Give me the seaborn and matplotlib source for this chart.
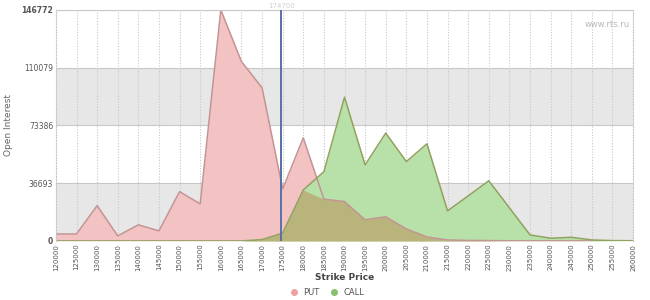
import matplotlib
matplotlib.use("Agg")
import matplotlib.pyplot as plt
import seaborn as sns
import numpy as np
import pandas as pd
from matplotlib.lines import Line2D

strikes = list(range(120000, 260001, 5000))
put_oi = [4400, 4400, 22400, 3200, 10200, 6400, 31300, 23500, 146772, 114000, 97300,
          33000, 65500, 26500, 25000, 13400, 15300, 7600, 2500, 600, 300, 200, 100,
          100, 100, 100, 50, 0, 0]
call_oi = [0, 0, 0, 0, 0, 0, 0, 0, 0, 0, 800,
           5000, 32400, 44000, 91300, 48300, 68500, 50400, 61700, 19100, 28600, 38200,
           21000, 3800, 1700, 2300, 600, 200, 100]
y_ticks = [0, 36693, 73386, 110079, 146772]
current_price = 174700
current_label = "174700"
watermark = "www.rts.ru"

df = pd.DataFrame({"strike": strikes, "PUT": put_oi, "CALL": call_oi})

sns.set_style("white")
plt.rcParams['font.family'] = ['DejaVu Sans']

fig = plt.figure(figsize=(6.5, 3.0), dpi=100)
ax = fig.add_axes([0.086, 0.197, 0.888, 0.770])

x_min, x_max = strikes[0], strikes[-1]
y_max = y_ticks[-1]

# background bands
for i in range(0, len(y_ticks) - 1, 2):
    ax.axhspan(y_ticks[i], y_ticks[i + 1], color="#e7e7e7", zorder=0, lw=0)
for yv in y_ticks[1:]:
    ax.axhline(yv, color="#c8c8c8", lw=0.8, zorder=0.5)
for xv in strikes:
    ax.axvline(xv, color="#c8c8c8", lw=0.8, ls=(0, (1, 1.5)), zorder=0.5)

put_c = "#f3c2c2"
call_c = "#b7e1a8"
over_c = "#b9b47c"
put = np.array(put_oi, dtype=float)
call = np.array(call_oi, dtype=float)
xs = np.array(strikes, dtype=float)

ax.fill_between(xs, 0, put, color=put_c, lw=0, zorder=1)
ax.fill_between(xs, 0, call, color=call_c, lw=0, zorder=1.1)
ax.fill_between(xs, 0, np.minimum(put, call), color=over_c, lw=0, zorder=1.2)

sns.lineplot(data=df, x="strike", y="PUT", ax=ax, color="#c49494", lw=1.1, zorder=2)
sns.lineplot(data=df, x="strike", y="CALL", ax=ax, color="#93a160", lw=1.1, zorder=2.1)

ax.axvline(current_price, color="#5a6fa8", lw=1.4, zorder=3)
ax.text(current_price, y_max * 1.005, current_label, ha="center", va="bottom",
        fontsize=5, color="#cfcfcf")
ax.text(0.995, 0.955, watermark, transform=ax.transAxes, ha="right", va="top",
        fontsize=6, color="#b8b8b8")

ax.set_xlim(x_min, x_max)
ax.set_ylim(0, y_max)
ax.set_xticks(strikes)
ax.set_xticklabels([str(s) for s in strikes], rotation=90, fontsize=5, color="#555555")
ax.set_yticks(y_ticks)
ylabels = ax.set_yticklabels([str(v) for v in y_ticks], fontsize=5.5, color="#555555")
ylabels[0].set_fontweight("bold")
ylabels[-1].set_fontweight("bold")
ax.tick_params(axis="both", length=0, pad=2)

ax.set_xlabel("Strike Price", fontsize=6.5, fontweight="bold", color="#444444", labelpad=2)
ax.set_ylabel("Open Interest", fontsize=6.5, color="#666666", labelpad=6)

for side in ["left", "right", "bottom", "top"]:
    ax.spines[side].set_visible(True)
    ax.spines[side].set_color("#c8c8c8")
    ax.spines[side].set_linewidth(0.8)
    ax.spines[side].set_linestyle((0, (1, 1.5)))
ax.spines["bottom"].set_visible(False)

handles = [Line2D([], [], marker="o", ls="", color="#f0a0a0", markersize=4, label="PUT"),
           Line2D([], [], marker="o", ls="", color="#88c070", markersize=4, label="CALL")]
fig.legend(handles=handles, loc="center", bbox_to_anchor=(0.5, 0.025), ncol=2, frameon=False,
           fontsize=6, handletextpad=0.1, columnspacing=0.8, labelcolor="#555555",
           borderpad=0.1)

fig.savefig("out.png", dpi=100)
